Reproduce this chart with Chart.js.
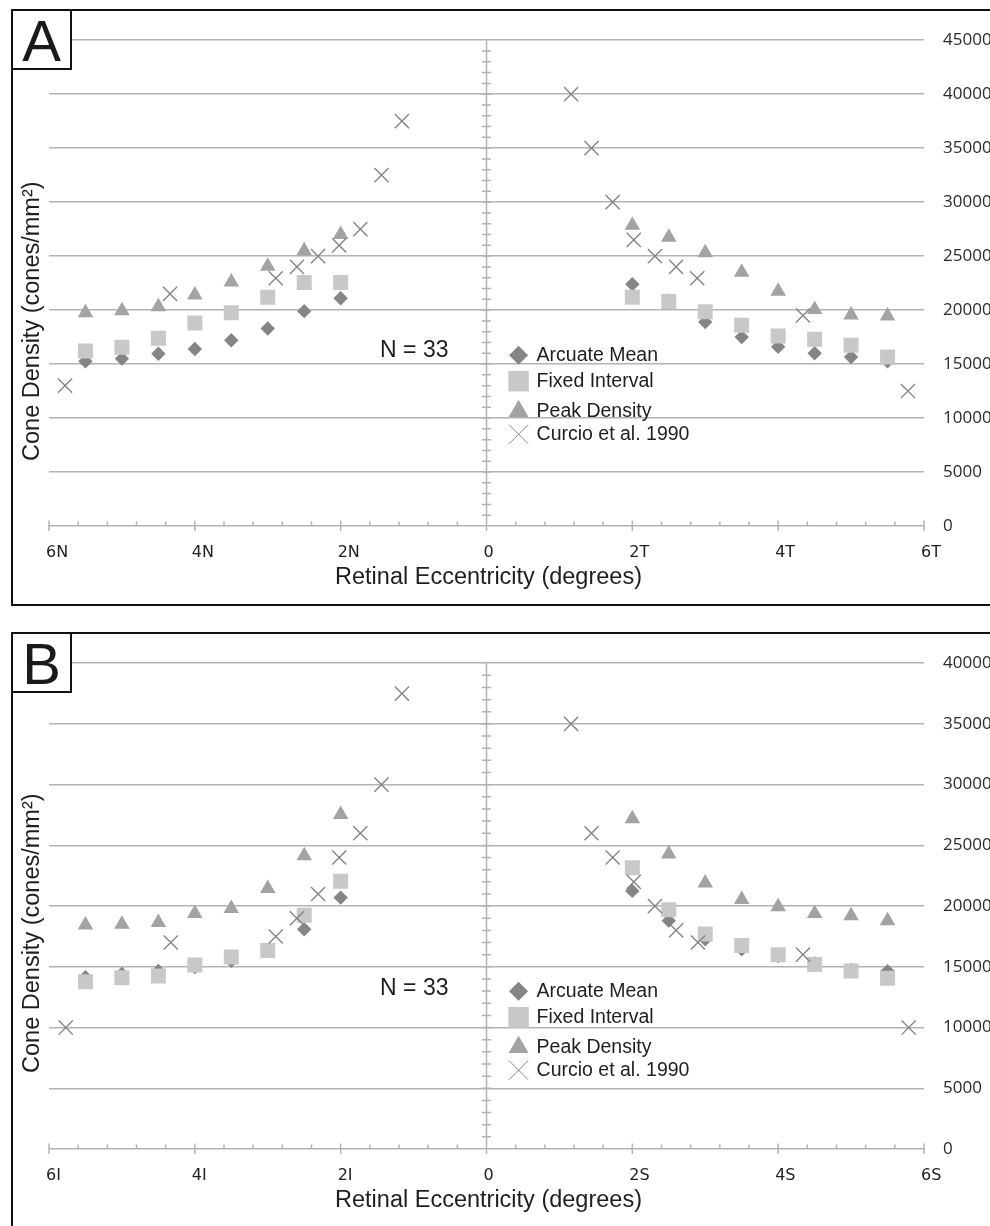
<!DOCTYPE html>
<html>
<head>
  <meta charset="UTF-8">
  <title>Cone density vs retinal eccentricity</title>
  <script src="https://cdn.jsdelivr.net/npm/chart.js"></script>
  <style>
    html, body {
      margin: 0;
      padding: 0;
      background: #fff;
      overflow: hidden;
      width: 990px;
      height: 1226px;
    }
    .panel {
      position: absolute;
      left: 11px;
      width: 1000px;
      height: 593px;
      border: 2px solid #111;
    }
    #panelA { top: 9px; }
    #panelB { top: 632px; }
    .panel canvas {
      position: absolute;
      left: 0;
      top: 0;
    }
    .tag {
      position: absolute;
      left: 0;
      top: 0;
      width: 57px;
      height: 55px;
      padding-top: 2px;
      line-height: 55px;
      text-align: center;
      border-right: 2px solid #111;
      border-bottom: 2px solid #111;
      background: #fff;
      font-family: "Liberation Sans", Arial, sans-serif;
      font-size: 58px;
      color: #1a1a1a;
      z-index: 2;
    }
  </style>
</head>
<body>
  <div class="panel" id="panelA">
    <canvas id="chartA" width="977" height="593"></canvas>
    <div class="tag">A</div>
  </div>
  <div class="panel" id="panelB">
    <canvas id="chartB" width="977" height="593"></canvas>
    <div class="tag">B</div>
  </div>

  <script>
    // eccentricities (degrees), nasal/inferior negative
    const sampleEcc = [-5.5, -5, -4.5, -4, -3.5, -3, -2.5, -2, 2, 2.5, 3, 3.5, 4, 4.5, 5, 5.5];
    const curcioEccA = [-5.78, -4.34, -2.89, -2.6, -2.31, -2.02, -1.73, -1.44, -1.16, 1.16, 1.44, 1.73, 2.02, 2.31, 2.6, 2.89, 4.34, 5.78];
    const curcioEccB = [-5.77, -4.33, -2.89, -2.6, -2.31, -2.02, -1.73, -1.44, -1.16, 1.16, 1.44, 1.73, 2.02, 2.31, 2.6, 2.9, 4.34, 5.79];

    // panel A (nasal / temporal)
    const arcuateA = [15250, 15500, 15950, 16400, 17200, 18300, 19900, 21100, 22400, 20900, 18900, 17500, 16600, 16000, 15650, 15250];
    const fixedA = [16200, 16550, 17400, 18800, 19750, 21200, 22550, 22550, 21200, 20800, 19850, 18600, 17600, 17300, 16750, 15650];
    const peakA = [19750, 19950, 20300, 21400, 22600, 24050, 25500, 27000, 27850, 26750, 25300, 23500, 21750, 20050, 19550, 19450];
    const curcioA = [13000, 21500, 22950, 24000, 25000, 26000, 27500, 32500, 37500, 40000, 35000, 30000, 26500, 25000, 24000, 22950, 19500, 12500];

    // panel B (inferior / superior)
    const arcuateB = [14150, 14420, 14660, 14990, 15500, 16350, 18100, 20700, 21250, 18800, 17270, 16450, 15890, 15300, 14740, 14650];
    const fixedB = [13770, 14100, 14250, 15150, 15800, 16350, 19250, 22050, 23150, 19700, 17700, 16750, 16000, 15200, 14650, 14050];
    const peakB = [18450, 18500, 18650, 19400, 19800, 21450, 24150, 27550, 27200, 24300, 21900, 20550, 19950, 19400, 19200, 18800];
    const curcioB = [10000, 17000, 17500, 19000, 21000, 24000, 26000, 30000, 37500, 35000, 26000, 24000, 22000, 20000, 18000, 17000, 16000, 10000];

    const xTickValues = [-6, -4, -2, 0, 2, 4, 6];
    const xTickLabelsA = ['6N', '4N', '2N', '0', '2T', '4T', '6T'];
    const xTickLabelsB = ['6I', '4I', '2I', '0', '2S', '4S', '6S'];
    const yMaxA = 45000;
    const yMaxB = 40000;
    const seriesNames = ['Arcuate Mean', 'Fixed Interval', 'Peak Density', 'Curcio et al. 1990'];

    const gridColor = '#b3b3b3';
    const textFont = '"Liberation Sans", Arial, sans-serif';
    const styles = [
      { pointStyle: 'rectRot', radius: 7.2, fill: '#858585', border: 0, legendRadius: 9.5 },
      { pointStyle: 'rect', radius: 10.6, fill: '#c8c8c8', border: 0, legendRadius: 14.5 },
      { pointStyle: 'triangle', radius: 9, fill: '#a3a3a3', border: 0, legendRadius: 11.5 },
      { pointStyle: 'crossRot', radius: 10, fill: 'rgba(0,0,0,0)', border: 1.4, legendRadius: 13.5 }
    ];

    function pts(xs, ys) {
      return xs.map((x, i) => ({ x: x, y: ys[i] }));
    }

    // axis line at 0, minor ticks, titles, N label, legend
    const decor = {
      id: 'decor',
      beforeDatasetsDraw(chart) {
        const ctx = chart.ctx, sx = chart.scales.x, sy = chart.scales.y, ca = chart.chartArea;
        ctx.save();
        ctx.strokeStyle = gridColor;
        ctx.lineWidth = 1.5;
        ctx.beginPath();
        const x0 = sx.getPixelForValue(0);
        ctx.moveTo(x0, ca.top);
        ctx.lineTo(x0, ca.bottom);
        for (let v = 1000; v < sy.max; v += 1000) {
          const py = sy.getPixelForValue(v);
          ctx.moveTo(x0 - 4.5, py);
          ctx.lineTo(x0 + 4.5, py);
        }
        for (let i = 0; i <= 30; i++) {
          const px = sx.getPixelForValue(-6 + i * 0.4);
          const major = i % 5 === 0;
          ctx.moveTo(px, ca.bottom - (major ? 5.5 : 4.5));
          ctx.lineTo(px, ca.bottom + (major ? 5 : 0));
        }
        ctx.stroke();
        ctx.restore();
      },
      afterDraw(chart, args, o) {
        const ctx = chart.ctx, sx = chart.scales.x, sy = chart.scales.y, ca = chart.chartArea;
        ctx.save();
        ctx.fillStyle = '#1e1e1e';
        ctx.textBaseline = 'middle';

        // x title
        ctx.font = '23.5px ' + textFont;
        ctx.textAlign = 'center';
        ctx.fillText('Retinal Eccentricity (degrees)', sx.getPixelForValue(0) + 2, ca.bottom + 52);

        // y title
        ctx.save();
        ctx.translate(20, ca.top + o.yTitleOffset);
        ctx.rotate(-Math.PI / 2);
        ctx.fillText('Cone Density (cones/mm\u00B2)', 0, 0);
        ctx.restore();

        // N = 33
        ctx.font = '23px ' + textFont;
        ctx.fillText('N = 33', sx.getPixelForValue(-0.99), sy.getPixelForValue(o.nValue));

        // legend
        const lx = sx.getPixelForValue(0.44);
        const gaps = [0, 26, 56, 79];
        ctx.font = '19.5px ' + textFont;
        ctx.textAlign = 'left';
        seriesNames.forEach((name, i) => {
          const ly = ca.top + o.legendTop + gaps[i];
          const st = styles[i];
          ctx.fillStyle = st.fill;
          ctx.strokeStyle = '#858585';
          Chart.helpers.drawPoint(ctx, { pointStyle: st.pointStyle, radius: st.legendRadius, rotation: 0, borderWidth: st.border }, lx, ly);
          ctx.fillStyle = '#1e1e1e';
          ctx.fillText(name, lx + 18, ly);
        });
        ctx.restore();
      }
    };

    function makeChart(id, series, curcioEcc, tickLabels, yMax, topPad, extra) {
      const datasets = series.map((vals, i) => {
        const st = styles[i];
        const xs = i === 3 ? curcioEcc : sampleEcc;
        return {
          label: seriesNames[i],
          data: pts(xs, vals),
          pointStyle: st.pointStyle,
          pointRadius: st.radius,
          pointBackgroundColor: st.fill,
          pointBorderColor: '#858585',
          pointBorderWidth: st.border,
          showLine: false,
          order: 3 - i
        };
      });

      return new Chart(document.getElementById(id).getContext('2d'), {
        type: 'scatter',
        data: { datasets: datasets },
        options: {
          responsive: false,
          animation: false,
          layout: { padding: { left: 36, top: topPad, right: 0, bottom: 0 } },
          plugins: {
            legend: { display: false },
            tooltip: { enabled: false },
            decor: extra
          },
          scales: {
            x: {
              type: 'linear',
              min: -6,
              max: 6,
              grid: { display: false, drawTicks: false },
              border: { display: false },
              afterFit: s => { s.height = 78; },
              ticks: {
                stepSize: 2,
                autoSkip: false,
                maxRotation: 0,
                align: 'start',
                labelOffset: -3,
                padding: 17,
                color: '#222',
                font: { family: '"DejaVu Sans", sans-serif', size: 16 },
                callback: v => {
                  const k = xTickValues.indexOf(Math.round(v));
                  return k >= 0 ? tickLabels[k] : '';
                }
              }
            },
            y: {
              position: 'right',
              min: 0,
              max: yMax,
              grid: { color: gridColor, lineWidth: 1.5, drawTicks: false },
              border: { display: false },
              afterFit: s => { s.width = 66; },
              ticks: {
                stepSize: 5000,
                padding: 19,
                color: '#2a2a2a',
                font: { family: '"Open Sans", sans-serif', size: 17 },
                callback: v => String(v)
              }
            }
          }
        },
        plugins: [decor]
      });
    }

    makeChart('chartA', [arcuateA, fixedA, peakA, curcioA], curcioEccA, xTickLabelsA, yMaxA, 23,
      { yTitleOffset: 281, nValue: 16200, legendTop: 315 });
    makeChart('chartB', [arcuateB, fixedB, peakB, curcioB], curcioEccB, xTickLabelsB, yMaxB, 24,
      { yTitleOffset: 270, nValue: 13200, legendTop: 328 });
  </script>
</body>
</html>
